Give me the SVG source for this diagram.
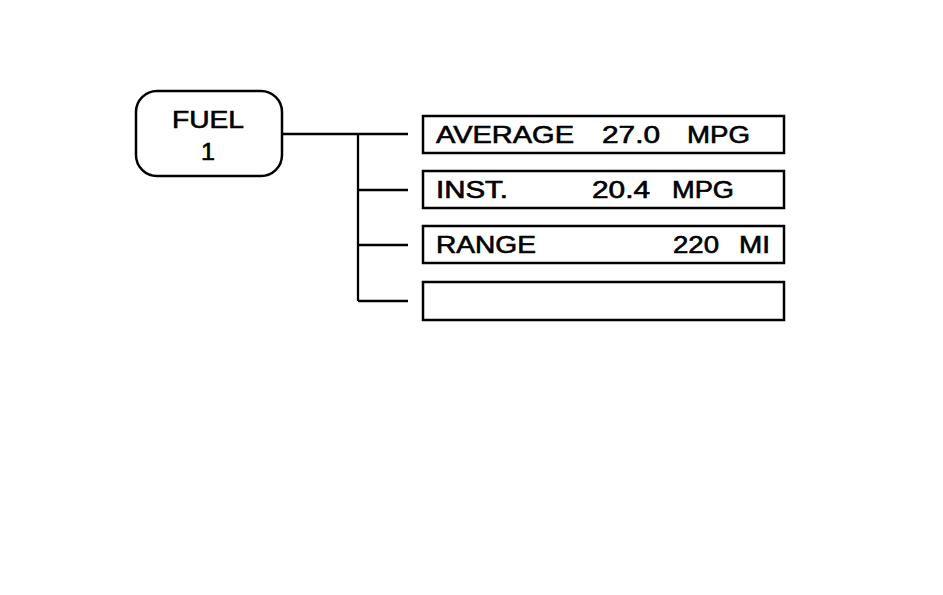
<svg xmlns="http://www.w3.org/2000/svg" width="943" height="595" viewBox="0 0 943 595">
<style>
.t{font-family:"Liberation Sans",Arial,sans-serif;font-size:23px;fill:#000;stroke:#000;stroke-width:0.6}
.box{fill:#fff;stroke:#000;stroke-width:2.5}
.ln{fill:none;stroke:#000;stroke-width:2.3}
</style>
<rect width="943" height="595" fill="#fff"/>
<g id="connectors">
<path class="ln" d="M283 134H408M358 134V301M358 190H408M358 245H408M358 301H408"/>
</g>
<g id="fuel">
<rect class="box" x="136" y="91" width="146" height="85" rx="21"/>
<text class="t" x="172" y="128" textLength="72" lengthAdjust="spacingAndGlyphs">FUEL</text>
<text class="t" x="201" y="160" textLength="14" lengthAdjust="spacingAndGlyphs">1</text>
</g>
<g id="average">
<rect class="box" x="423" y="116" width="361" height="37"/>
<text class="t" x="436" y="143" textLength="138" lengthAdjust="spacingAndGlyphs">AVERAGE</text>
<text class="t" x="602" y="143" textLength="58" lengthAdjust="spacingAndGlyphs">27.0</text>
<text class="t" x="687" y="143" textLength="63" lengthAdjust="spacingAndGlyphs">MPG</text>
</g>
<g id="inst">
<rect class="box" x="423" y="171" width="361" height="37"/>
<text class="t" x="436" y="198" textLength="72" lengthAdjust="spacingAndGlyphs">INST.</text>
<text class="t" x="592" y="198" textLength="58" lengthAdjust="spacingAndGlyphs">20.4</text>
<text class="t" x="672" y="198" textLength="62" lengthAdjust="spacingAndGlyphs">MPG</text>
</g>
<g id="range">
<rect class="box" x="423" y="226" width="361" height="37"/>
<text class="t" x="436" y="253" textLength="100" lengthAdjust="spacingAndGlyphs">RANGE</text>
<text class="t" x="673" y="253" textLength="46" lengthAdjust="spacingAndGlyphs">220</text>
<text class="t" x="739" y="253" textLength="31" lengthAdjust="spacingAndGlyphs">MI</text>
</g>
<g id="empty">
<rect class="box" x="423" y="282" width="361" height="38"/>
</g>
</svg>
